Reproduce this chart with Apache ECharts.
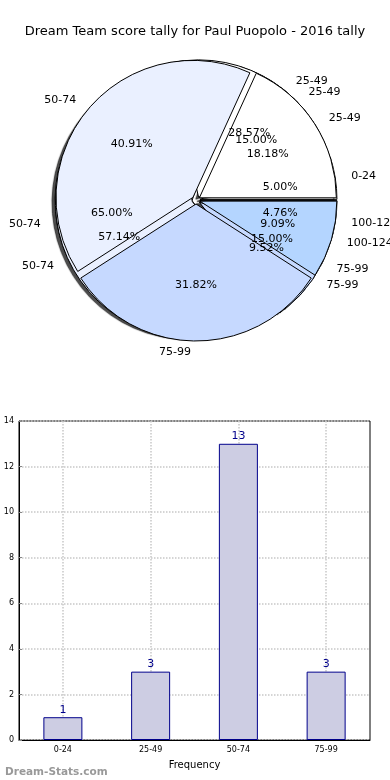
<!DOCTYPE html>
<html><head><meta charset="utf-8">
<script src="https://cdn.jsdelivr.net/npm/echarts@6/dist/echarts.min.js"></script>
<style>html,body{margin:0;padding:0;background:#fff}#c{width:390px;height:780px}</style>
</head><body><div id="c"></div>
<script>
const titleText = 'Dream Team score tally for Paul Puopolo - 2016 tally';
// pie layers (bottom to top)
const pieCatsA = ['0-24', '25-49', '50-74', '75-99'];
const pieValsA = [1, 3, 13, 3];
const pieCatsB = ['25-49', '50-74', '75-99', '100-124'];
const pieValsB = [6, 12, 2, 1];
const pieCatsC = ['25-49', '50-74', '75-99', '100-124'];
const pieValsC = [4, 9, 7, 2];
// bar chart
const barCats = ['0-24', '25-49', '50-74', '75-99'];
const barVals = [1, 3, 13, 3];
const yTicks = [0, 2, 4, 6, 8, 10, 12, 14];

const catColors = {'0-24':'#ffffff','25-49':'#ffffff','50-74':'#eaf0ff','75-99':'#c6d9ff','100-124':'#b4d5ff'};
const FONT = 'DejaVu Sans';
const CX = 196, CY = 200, R = 137;

function pieData(cats, vals, selected) {
  return cats.map((c, i) => ({name: c, value: vals[i], selected: selected,
    itemStyle: {color: catColors[c]}}));
}
function visiblePie(cats, vals, shadow) {
  return {
    type: 'pie', center: [CX, CY], radius: [0, R], clockwise: false, startAngle: 0,
    selectedMode: 'multiple', selectedOffset: 4, avoidLabelOverlap: false, silent: true,
    animation: false,
    labelLayout: {hideOverlap: false},
    itemStyle: Object.assign({borderColor: '#000', borderWidth: 1},
      shadow ? {shadowColor: 'rgba(0,0,0,0.7)', shadowBlur: 1, shadowOffsetX: -3, shadowOffsetY: 2} : {}),
    label: {show: true, position: 'outside', color: '#000', fontFamily: FONT, fontSize: 11},
    labelLine: {show: false, length: 11, length2: 0},
    emphasis: {disabled: true},
    data: pieData(cats, vals, true)
  };
}
function pctPie(cats, vals) {
  const sum = vals.reduce((a, b) => a + b, 0);
  return {
    type: 'pie', center: [CX, CY], radius: [0, R * 1.2], clockwise: false, startAngle: 0,
    avoidLabelOverlap: false, silent: true, animation: false, z: 5,
    labelLayout: {hideOverlap: false},
    itemStyle: {color: 'rgba(0,0,0,0)', borderWidth: 0},
    label: {show: true, position: 'inside', color: '#000', fontFamily: FONT, fontSize: 11,
      formatter: p => (p.value / sum * 100).toFixed(2) + '%'},
    labelLine: {show: false},
    emphasis: {disabled: true},
    data: cats.map((c, i) => ({name: c, value: vals[i]}))
  };
}

const chart = echarts.init(document.getElementById('c'), null, {renderer: 'canvas'});
chart.setOption({
  animation: false,
  backgroundColor: '#fff',
  title: [
    {text: titleText, left: 'center', top: 20, textStyle: {fontFamily: FONT, fontSize: 13, fontWeight: 'normal', color: '#000'}},
    {text: 'Dream-Stats.com', left: 0, top: 762, textStyle: {fontFamily: FONT, fontSize: 10.5, fontWeight: 'bold', color: '#999999'}}
  ],
  grid: {left: 19, top: 421, width: 351, height: 319, containLabel: false, outerBoundsMode: 'none',
    show: true, borderColor: '#000', borderWidth: 1, backgroundColor: 'transparent'},
  xAxis: {
    type: 'category', data: barCats, boundaryGap: true,
    name: 'Frequency', nameLocation: 'middle', nameGap: 20,
    nameTextStyle: {fontFamily: FONT, fontSize: 10, color: '#000'},
    axisLine: {lineStyle: {color: '#000'}},
    axisTick: {show: true, alignWithLabel: true, inside: true, length: 3, lineStyle: {color: '#888'}},
    axisLabel: {fontFamily: FONT, fontSize: 8, color: '#000', margin: 6},
    splitLine: {show: true, alignWithLabel: true, lineStyle: {color: '#c8c8c8', type: 'dotted', width: 1.5}}
  },
  yAxis: {
    type: 'value', min: 0, max: 14, interval: 2,
    name: 'Score Tally', nameLocation: 'middle', nameGap: 4, nameRotate: 90,
    nameTextStyle: {fontFamily: FONT, fontSize: 10, color: '#000'},
    axisLine: {show: true, lineStyle: {color: '#000'}},
    axisTick: {show: true, inside: true, length: 3, lineStyle: {color: '#888'}},
    axisLabel: {fontFamily: FONT, fontSize: 8, color: '#000', margin: 5,
      formatter: v => (yTicks.indexOf(v) >= 0 ? String(v) : '')},
    splitLine: {show: true, lineStyle: {color: '#c8c8c8', type: 'dotted', width: 1.5}}
  },
  series: [
    visiblePie(pieCatsA, pieValsA, true),
    visiblePie(pieCatsB, pieValsB, false),
    visiblePie(pieCatsC, pieValsC, false),
    pctPie(pieCatsA, pieValsA),
    pctPie(pieCatsB, pieValsB),
    pctPie(pieCatsC, pieValsC),
    {
      type: 'bar', data: barVals, barWidth: 39, silent: true,
      itemStyle: {color: '#cdcde3', borderColor: '#00008b', borderWidth: 1},
      label: {show: true, position: 'top', distance: 2, color: '#00008b', fontFamily: FONT, fontSize: 11}
    }
  ]
});
</script>
</body></html>
